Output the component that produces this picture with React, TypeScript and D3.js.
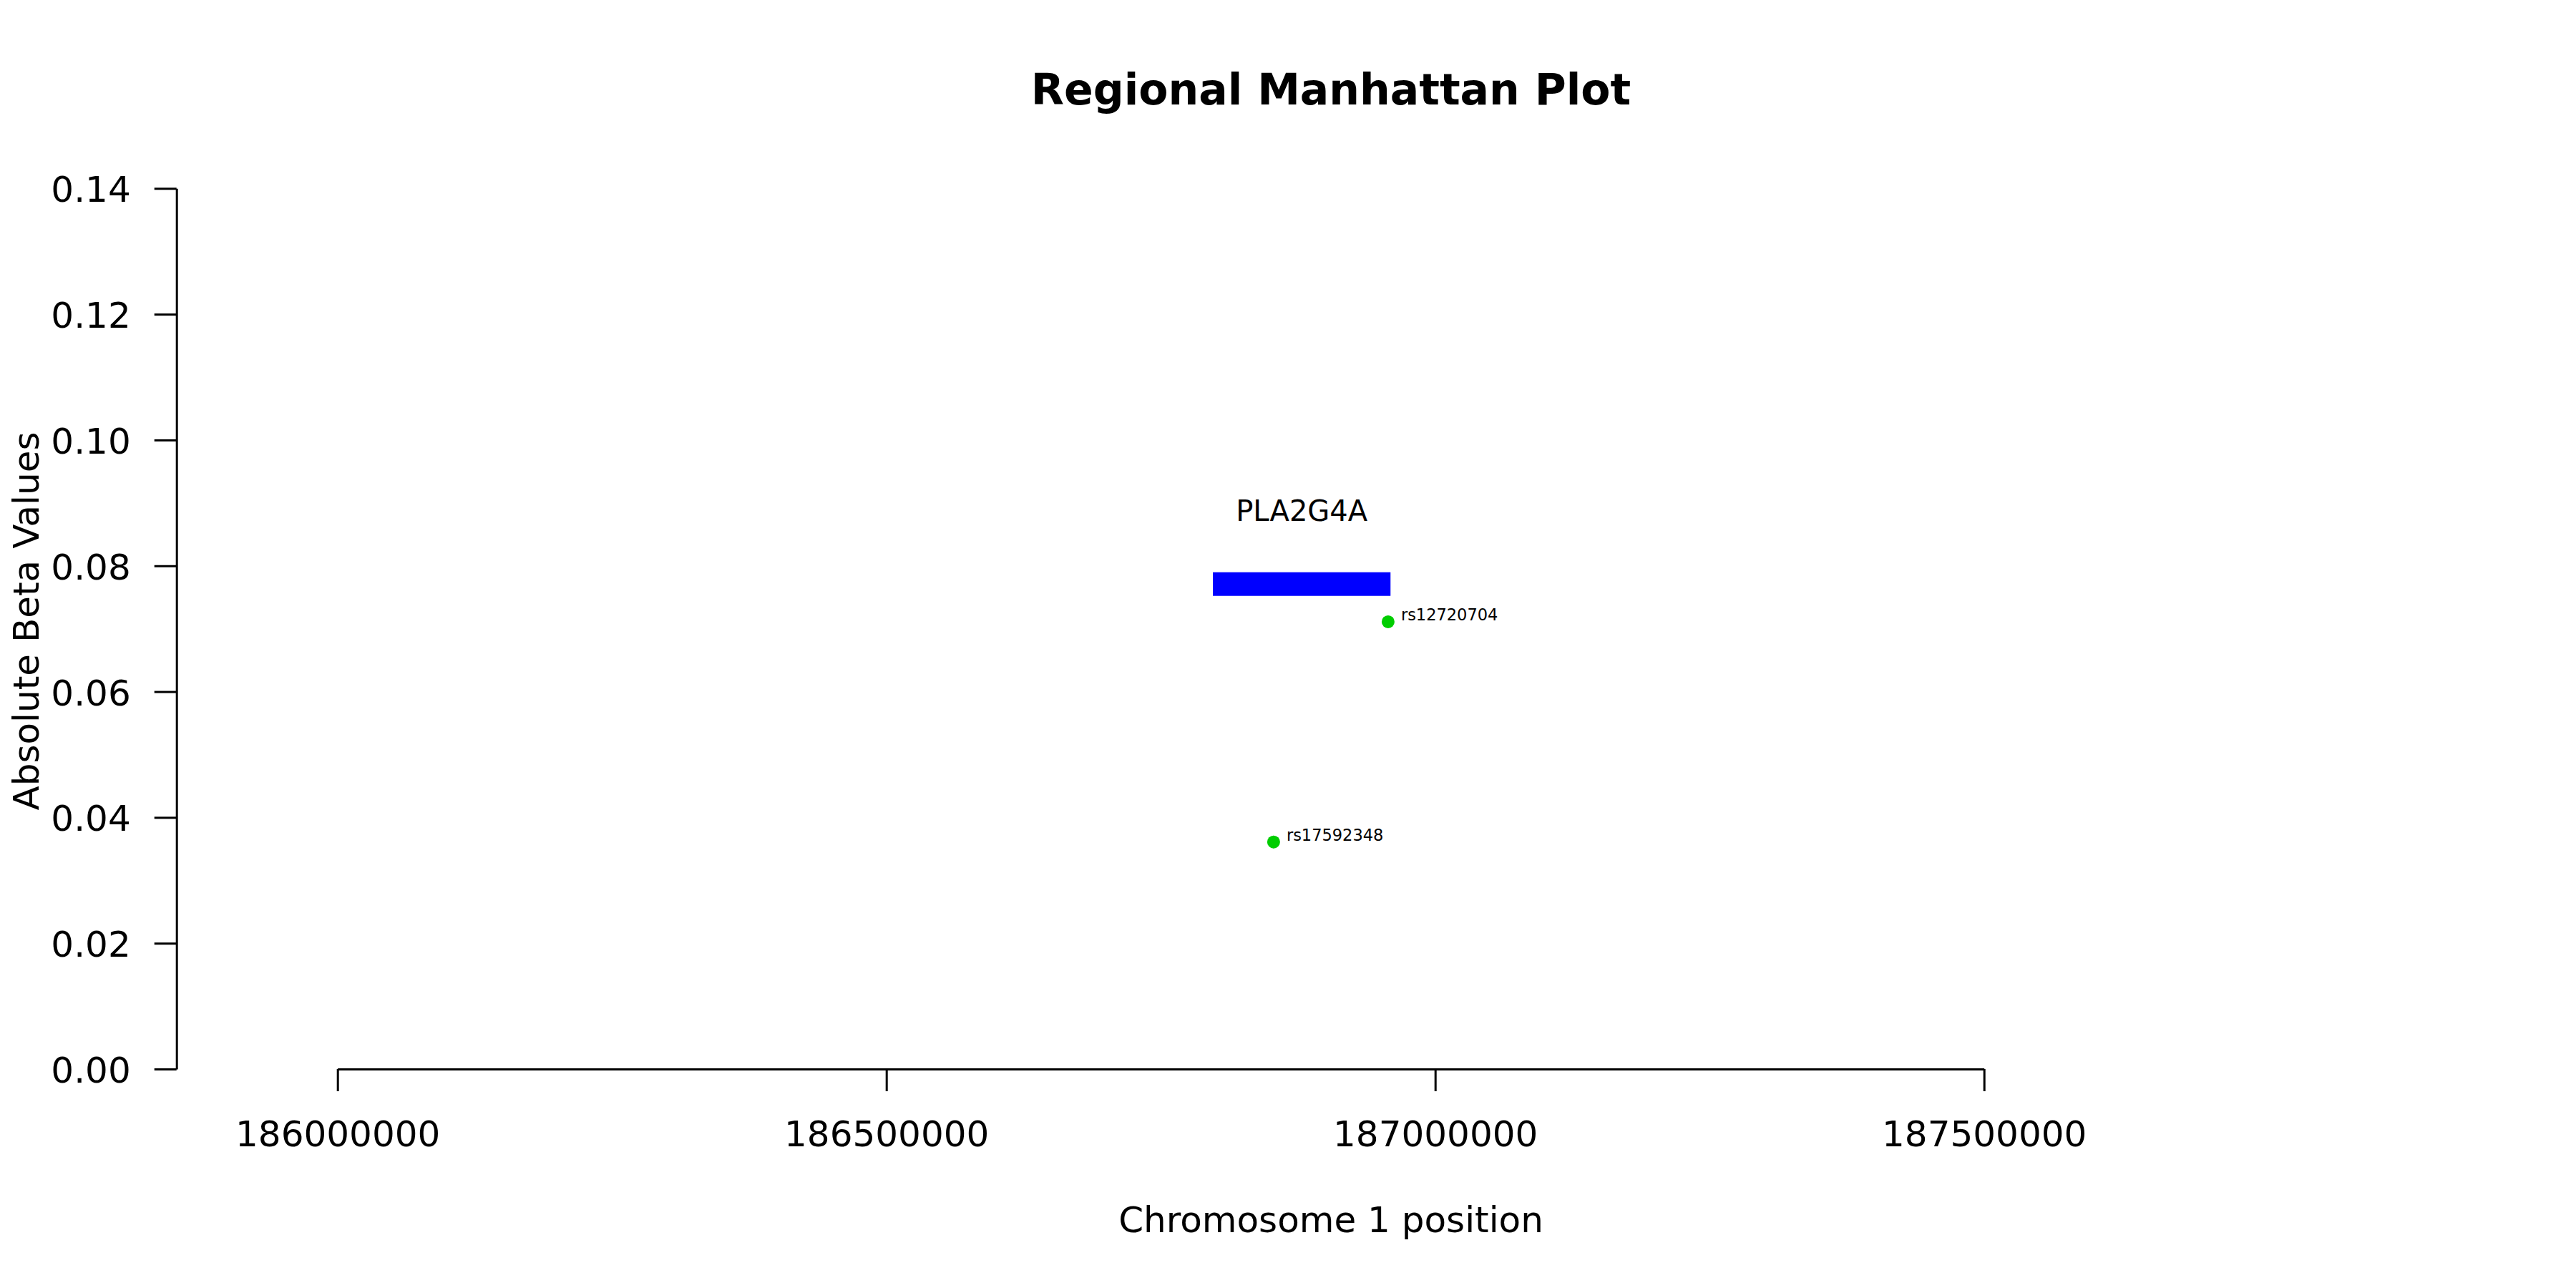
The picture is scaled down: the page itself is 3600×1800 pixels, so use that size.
import React, { useEffect, useRef } from "react";
import * as d3 from "d3";

// SNPs shown in the region
const snpNames = ["rs12720704", "rs17592348"];
const snpPositions = [186957100, 186852800];
const snpBetas = [0.0711, 0.0361];

// gene track
const geneNames = ["PLA2G4A"];
const geneStarts = [186797500];
const geneEnds = [186959300];
const geneY = [0.0771];

// axis ticks
const xTicks = [186000000, 186500000, 187000000, 187500000];
const yTicks = [0, 0.02, 0.04, 0.06, 0.08, 0.1, 0.12, 0.14];

const W = 3600;
const H = 1800;
const FONT = "'DejaVu Sans', sans-serif";

const App: React.FC = () => {
  const ref = useRef<SVGSVGElement | null>(null);

  useEffect(() => {
    if (!ref.current) return;
    const svg = d3.select(ref.current);
    svg.selectAll("*").remove();

    svg.append("rect").attr("width", W).attr("height", H).attr("fill", "#ffffff");

    // scales fitted to where the ticks sit in the picture
    const x = d3.scaleLinear().domain([186000000, 187500000]).range([471.7, 2772.7]);
    const y = d3.scaleLinear().domain([0, 0.14]).range([1494, 263.3]);
    const yAxisX = 246.7;
    const xAxisY = 1494;

    // Y axis
    const gy = svg
      .append("g")
      .attr("transform", `translate(${yAxisX},0)`)
      .call(
        d3
          .axisLeft(y)
          .tickValues(yTicks)
          .tickSize(31)
          .tickSizeOuter(0)
          .tickPadding(33)
          .tickFormat((d) => d3.format(".2f")(d as number))
      );
    gy.attr("font-family", FONT).attr("font-size", 50);
    gy.selectAll("path, line").attr("stroke", "#000").attr("stroke-width", 3);
    gy.selectAll("text").attr("fill", "#000").attr("dy", "0.37em");

    // X axis
    const gx = svg
      .append("g")
      .attr("transform", `translate(0,${xAxisY})`)
      .call(
        d3
          .axisBottom(x)
          .tickValues(xTicks)
          .tickSize(31)
          .tickSizeOuter(0)
          .tickPadding(41)
          .tickFormat((d) => d3.format("d")(d as number))
      );
    gx.attr("font-family", FONT).attr("font-size", 50);
    gx.selectAll("path, line").attr("stroke", "#000").attr("stroke-width", 3);
    gx.selectAll("text").attr("fill", "#000").attr("dy", "0.71em");

    // Title and axis titles
    svg
      .append("text")
      .attr("x", 1860)
      .attr("y", 146)
      .attr("text-anchor", "middle")
      .attr("font-family", FONT)
      .attr("font-weight", "bold")
      .attr("font-size", 60)
      .text("Regional Manhattan Plot");

    svg
      .append("text")
      .attr("x", 1860)
      .attr("y", 1722)
      .attr("text-anchor", "middle")
      .attr("font-family", FONT)
      .attr("font-size", 50)
      .text("Chromosome 1 position");

    svg
      .append("text")
      .attr("transform", "translate(54,868) rotate(-90)")
      .attr("text-anchor", "middle")
      .attr("font-family", FONT)
      .attr("font-size", 50)
      .text("Absolute Beta Values");

    // Gene bars
    const barH = 33;
    geneNames.forEach((name, i) => {
      const cy = y(geneY[i]);
      svg
        .append("rect")
        .attr("x", x(geneStarts[i]))
        .attr("y", cy - barH / 2)
        .attr("width", x(geneEnds[i]) - x(geneStarts[i]))
        .attr("height", barH)
        .attr("fill", "#0000ff");
      svg
        .append("text")
        .attr("x", (x(geneStarts[i]) + x(geneEnds[i])) / 2)
        .attr("y", cy - barH / 2 - 71.5)
        .attr("text-anchor", "middle")
        .attr("font-family", FONT)
        .attr("font-size", 40)
        .text(name);
    });

    // SNP points with labels
    snpNames.forEach((name, i) => {
      const px = x(snpPositions[i]);
      const py = y(snpBetas[i]);
      svg.append("circle").attr("cx", px).attr("cy", py).attr("r", 9).attr("fill", "#00cd00");
      svg
        .append("text")
        .attr("x", px + 18)
        .attr("y", py - 2)
        .attr("font-family", FONT)
        .attr("font-size", 22.5)
        .text(name);
    });
  }, []);

  return (
    <svg
      ref={ref}
      width={W}
      height={H}
      style={{ position: "absolute", left: 0, top: 0, display: "block" }}
    ></svg>
  );
};

export default App;
